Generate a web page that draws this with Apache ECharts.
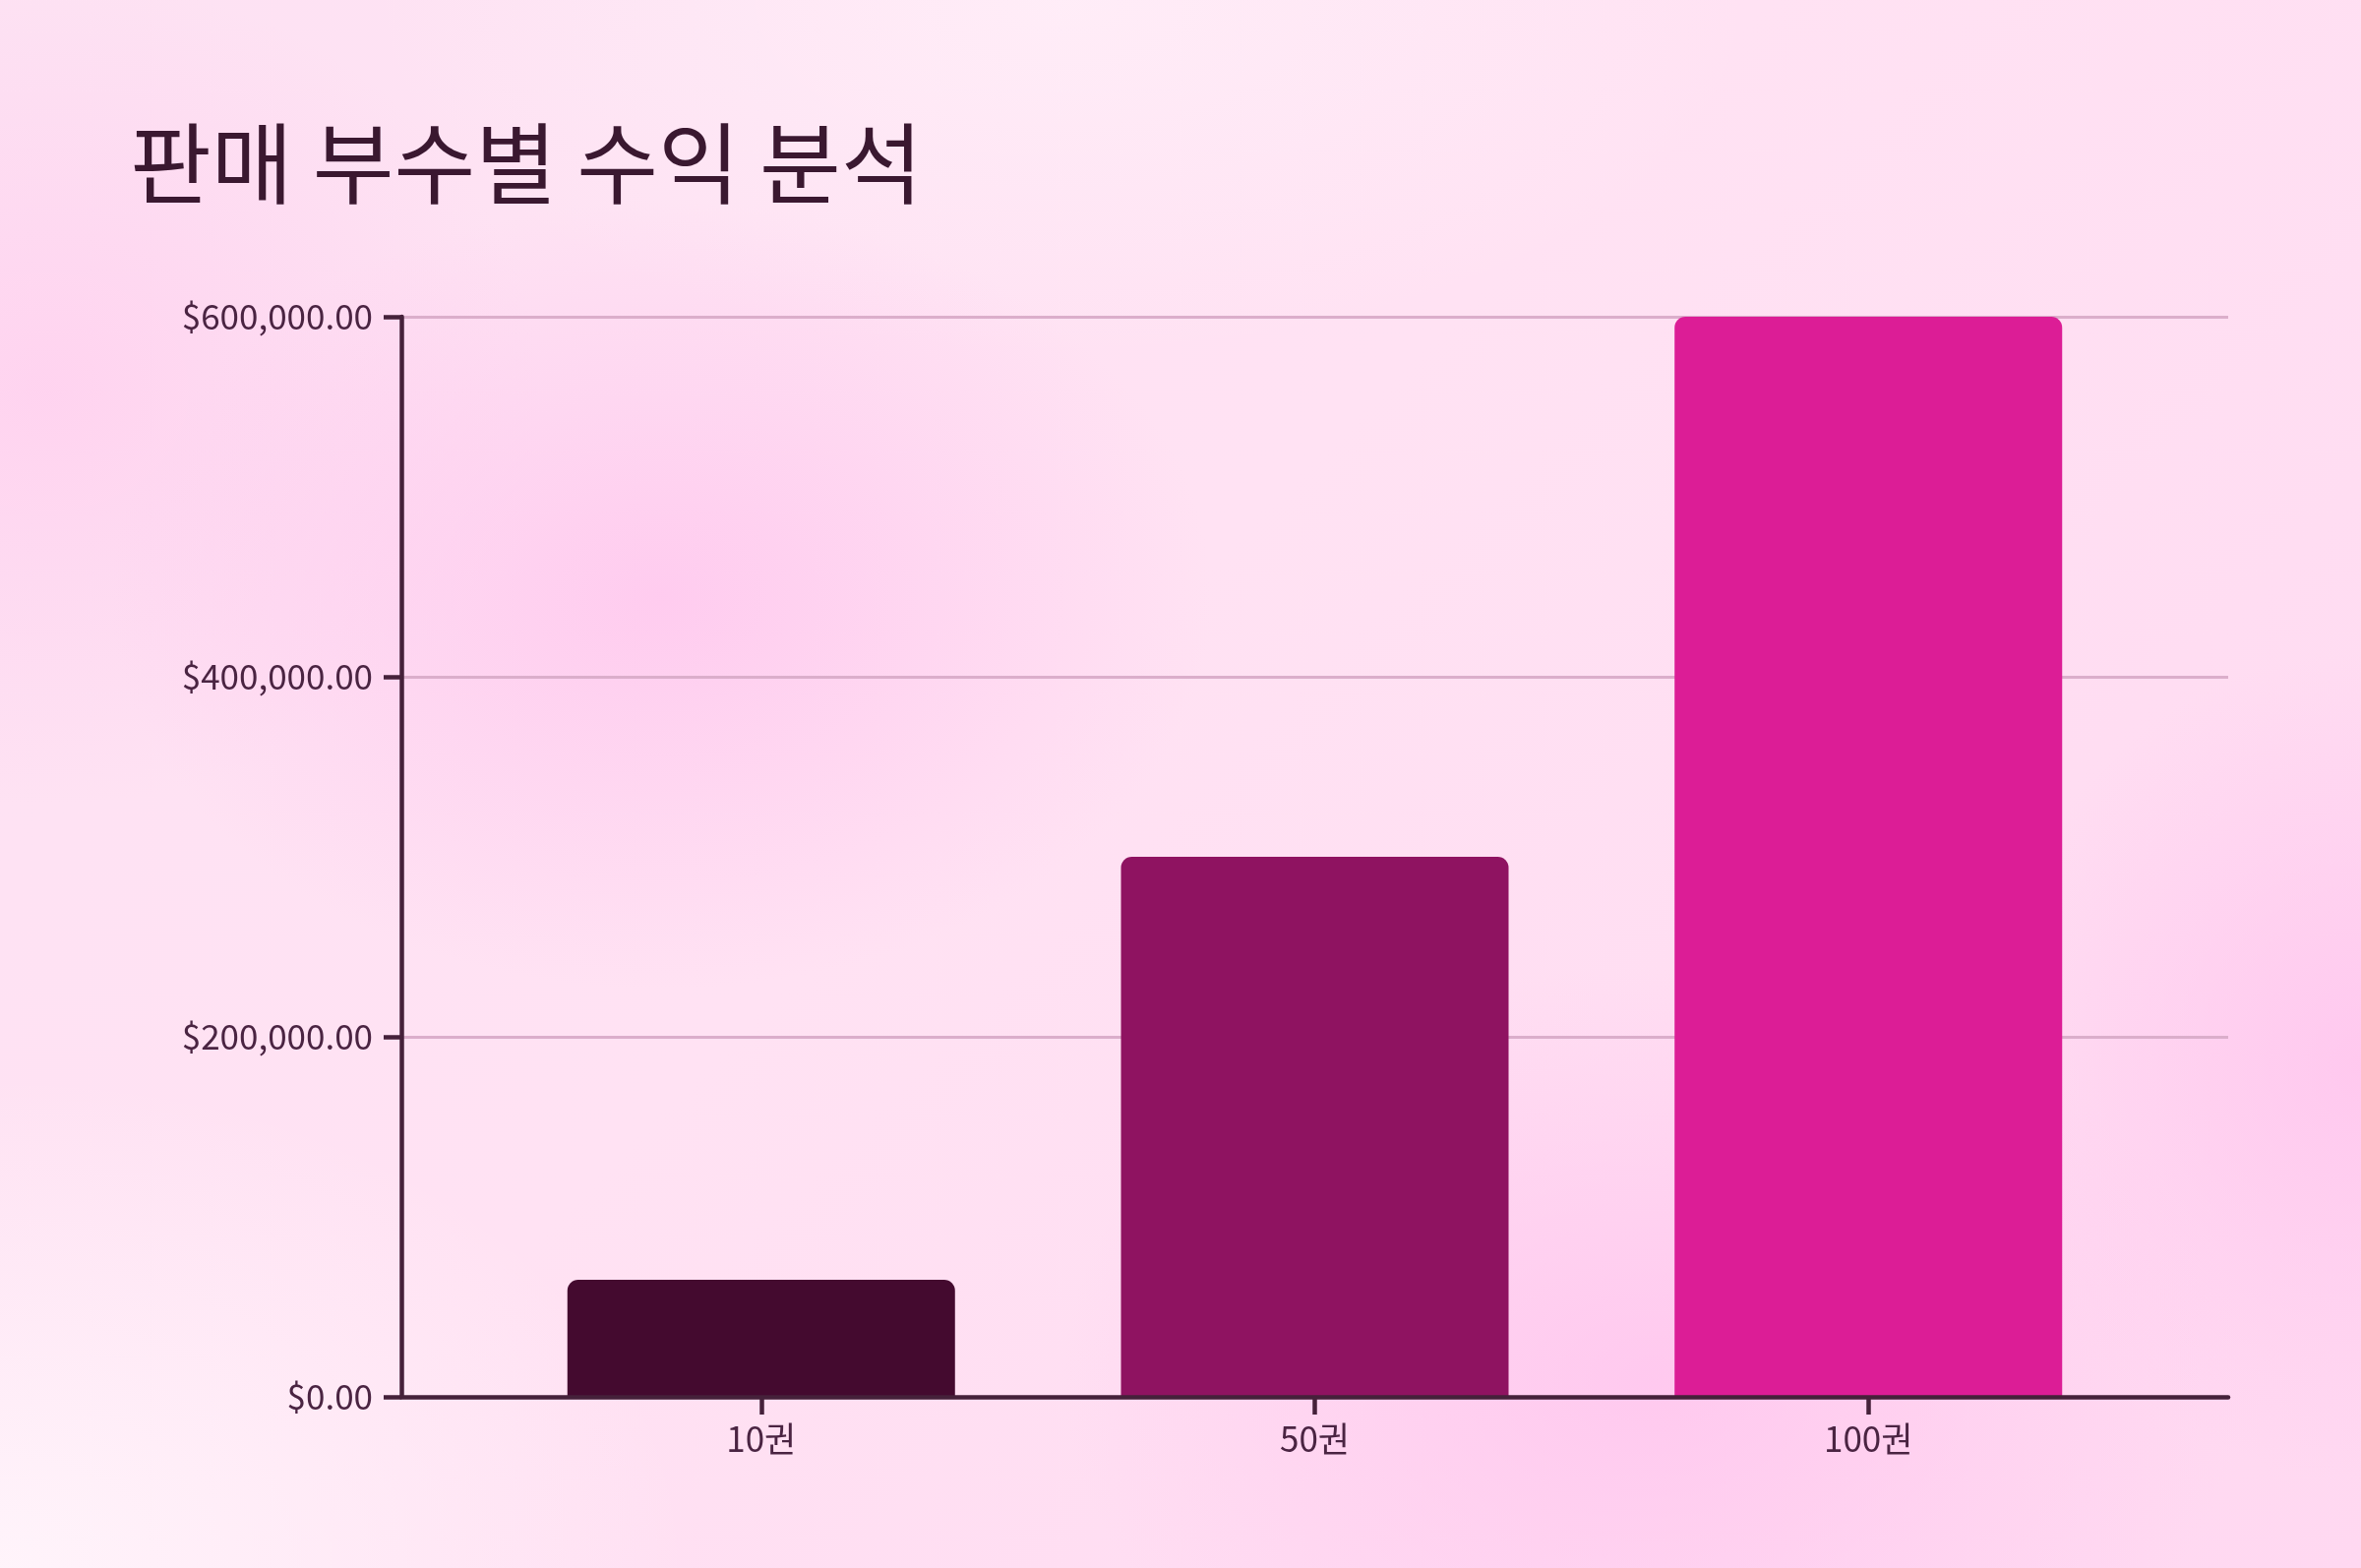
<!DOCTYPE html>
<html>
<head>
<meta charset="utf-8">
<script src="https://cdn.jsdelivr.net/npm/echarts@6/dist/echarts.min.js"></script>
<style>
  html, body { margin: 0; padding: 0; width: 2400px; height: 1594px; overflow: hidden; }
  body {
    background:
      radial-gradient(ellipse 560px 400px at 28% 38%, rgba(255,198,238,0.8), rgba(255,198,238,0) 100%),
      radial-gradient(ellipse 600px 420px at 70% 88%, rgba(255,196,238,0.8), rgba(255,196,238,0) 100%),
      radial-gradient(ellipse 380px 420px at 100% 68%, rgba(255,196,238,0.8), rgba(255,196,238,0) 100%),
      radial-gradient(ellipse 500px 420px at 2% 25%, rgba(255,205,238,0.7), rgba(255,205,238,0) 100%),
      radial-gradient(ellipse 700px 500px at 0% 100%, rgba(255,245,251,0.95), rgba(255,245,251,0) 100%),
      radial-gradient(ellipse 700px 360px at 45% 0%, rgba(255,238,248,0.9), rgba(255,238,248,0) 100%),
      linear-gradient(135deg, #fde2f3 0%, #ffe2f3 45%, #ffd8f1 100%);
  }
  #chart { width: 2400px; height: 1594px; }
</style>
</head>
<body>
<div id="chart"></div>
<script>
const titleText = '판매 부수별 수익 분석';
const categories = ['10권', '50권', '100권'];
const revenue = [65000, 300000, 600000];
const yTicks = [0, 200000, 400000, 600000];
const barColors = ['#440a2f', '#8f1361', '#dc1d96'];

const FONT = '"Noto Sans CJK KR", "Noto Sans", sans-serif';
const AXIS_COLOR = '#45213a';
const LABEL_COLOR = '#4a2442';

const chart = echarts.init(document.getElementById('chart'), null, { renderer: 'canvas' });

const catPositions = categories.map((c, i) => i + 1);

chart.setOption({
  backgroundColor: 'transparent',
  animation: false,
  textStyle: { fontFamily: FONT },
  title: {
    text: titleText,
    left: 127,
    top: 116,
    textStyle: { fontFamily: FONT, fontSize: 90, fontWeight: 'normal', color: '#3a1830' }
  },
  grid: { left: 408, right: 135, top: 322, bottom: 174, containLabel: false },
  xAxis: {
    type: 'value',
    min: 0.35,
    max: 3.65,
    z: 5,
    axisLine: { show: true, lineStyle: { color: AXIS_COLOR, width: 4.5 } },
    axisTick: { show: true, customValues: catPositions, length: 18, lineStyle: { color: AXIS_COLOR, width: 4.5 } },
    axisLabel: {
      show: true,
      customValues: catPositions,
      formatter: v => categories[Math.round(v) - 1] || '',
      fontFamily: FONT, fontSize: 35, color: LABEL_COLOR, margin: 25
    },
    splitLine: { show: false }
  },
  yAxis: {
    type: 'value',
    min: yTicks[0],
    max: yTicks[yTicks.length - 1],
    interval: yTicks[1] - yTicks[0],
    axisLine: { show: true, lineStyle: { color: AXIS_COLOR, width: 4.5 } },
    axisTick: { show: true, length: 18, lineStyle: { color: AXIS_COLOR, width: 4.5 } },
    axisLabel: {
      formatter: v => '$' + Number(v).toLocaleString('en-US', { minimumFractionDigits: 2, maximumFractionDigits: 2 }),
      fontFamily: FONT, fontSize: 35, color: LABEL_COLOR, margin: 29
    },
    splitLine: { show: true, lineStyle: { color: '#dbaecb', width: 3 } }
  },
  series: [{
    type: 'bar',
    barWidth: 394,
    data: revenue.map((v, i) => ({
      value: [catPositions[i], v],
      itemStyle: { color: barColors[i], borderRadius: [11, 11, 0, 0] }
    }))
  }]
});
</script>
</body>
</html>
